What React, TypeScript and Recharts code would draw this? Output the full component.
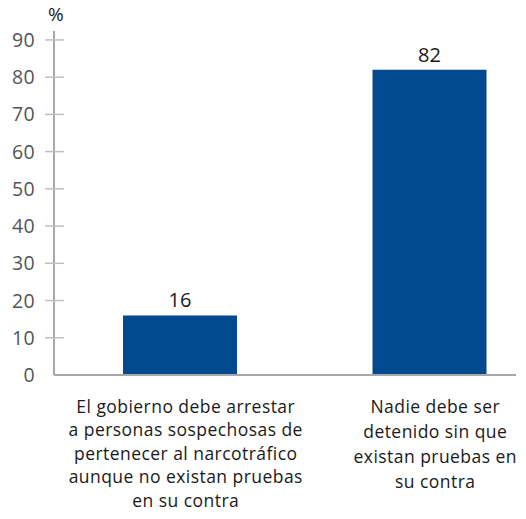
import React from 'react';
import { BarChart, Bar, XAxis, YAxis, LabelList } from 'recharts';

const categories = [
  'El gobierno debe arrestar|a personas sospechosas de|pertenecer al narcotráfico|aunque no existan pruebas|en su contra',
  'Nadie debe ser|detenido sin que|existan pruebas en|su contra',
];
const values = [16, 82];
const yTicks = [0, 10, 20, 30, 40, 50, 60, 70, 80, 90];

const data = categories.map((c, i) => ({ name: c, value: values[i] }));

const FONT = '"Open Sans", "Noto Sans", sans-serif';

// tick que cruza el eje (a los dos lados)
const YTick = (props: any) => {
  const { x, y, payload } = props;
  return (
    <g>
      {payload.value !== 0 && (
        <line x1={x - 9} x2={x + 10} y1={y} y2={y} stroke="#c0c0c0" strokeWidth={1.5} />
      )}
      <text x={x - 19} y={y} dy={7} textAnchor="end" fill="#555" fontSize={19.5} fontFamily={FONT} letterSpacing={0.3}>
        {payload.value}
      </text>
    </g>
  );
};

const XTick = (props: any) => {
  const { x, y, payload, index } = props;
  const lines = String(payload.value).split('|');
  const step = index === 0 ? 23.5 : 25;
  const cx = x + 6;
  return (
    <text x={cx} y={y} textAnchor="middle" fill="#1a1a1a" fontSize={17.5} fontFamily={FONT} letterSpacing={0.45}>
      {lines.map((l, i) => (
        <tspan key={i} x={cx} dy={i === 0 ? 37.5 : step}>
          {l}
        </tspan>
      ))}
    </text>
  );
};

export default function App() {
  return (
    <div style={{ position: 'absolute', left: 0, top: 0, width: 526, height: 519, overflow: 'hidden', background: '#fff' }}>
      <span
        style={{ position: 'absolute', left: 48, top: 1, fontSize: 19, lineHeight: '26px', fontFamily: FONT, color: '#1a1a1a' }}
      >
        %
      </span>
      <BarChart width={526} height={519} data={data} margin={{ top: 31, right: 10, bottom: 0, left: 0 }}>
        <XAxis
          dataKey="name"
          height={144}
          interval={0}
          tickLine={false}
          tickSize={0}
          tickMargin={0}
          padding={{ left: 1, right: -38 }}
          axisLine={{ stroke: '#a8a8a8', strokeWidth: 2 }}
          tick={<XTick />}
        />
        <YAxis
          width={54}
          domain={[0, 92.4]}
          ticks={yTicks}
          interval={0}
          tickLine={false}
          tickSize={0}
          tickMargin={0}
          axisLine={{ stroke: '#a8a8a8', strokeWidth: 2 }}
          tick={<YTick />}
        />
        <Bar dataKey="value" fill="#024a90" barSize={114} isAnimationActive={false}>
          <LabelList dataKey="value" position="top" offset={8} fill="#1a1a1a" fontSize={20} fontFamily={FONT} />
        </Bar>
      </BarChart>
    </div>
  );
}
